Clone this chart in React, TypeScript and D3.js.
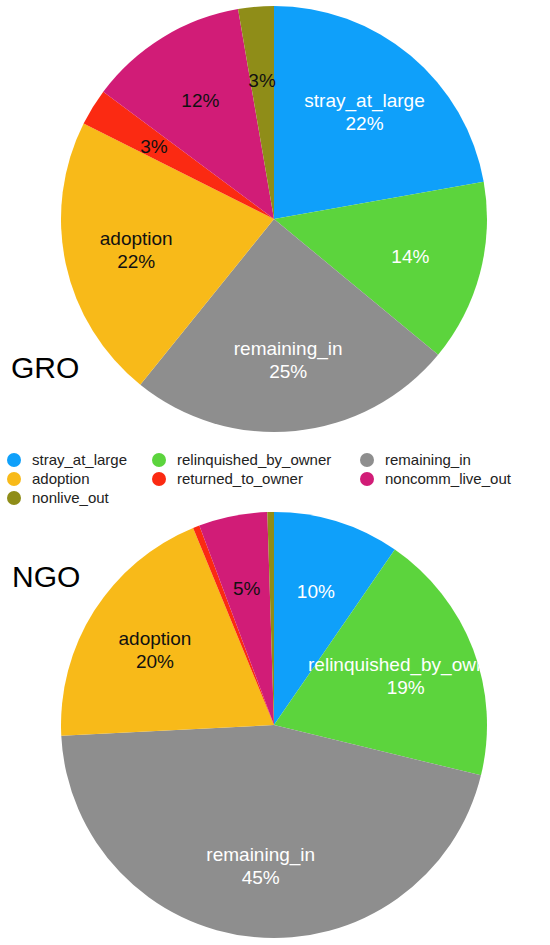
import React, { useRef, useEffect } from 'react'
import * as d3 from 'd3'

// categories in draw order (clockwise from 12 o'clock)
const categories = [
  'stray_at_large',
  'relinquished_by_owner',
  'remaining_in',
  'adoption',
  'returned_to_owner',
  'noncomm_live_out',
  'nonlive_out',
]

const colors = ['#0fa0fa', '#5cd43d', '#8e8e8e', '#f8ba19', '#fb2a12', '#d11c77', '#8f8d18']
const textColors = ['#fff', '#fff', '#fff', '#111', '#111', '#111', '#111']

// percent shares
const groValues = [22.2, 13.8, 24.8, 21.6, 2.8, 12.1, 2.7]
const ngoValues = [9.6, 19.2, 45.4, 19.6, 0.5, 5.2, 0.5]

// which slices show the category name / any label at all
const groShowName = [true, false, true, true, false, false, false]
const ngoShowName = [false, true, true, true, false, false, false]
const groShowLabel = [true, true, true, true, true, true, true]
const ngoShowLabel = [true, true, true, true, false, true, false]

// legend layout: three columns
const legendColumns = [0, 1, 2, 0, 1, 2, 0]
const legendRows = [0, 0, 0, 1, 1, 1, 2]

const WIDTH = 550
const HEIGHT = 945
const FONT = "Helvetica, Arial, 'Liberation Sans', sans-serif"

const App: React.FC = () => {
  const ref = useRef<SVGSVGElement>(null)

  useEffect(() => {
    if (!ref.current) return
    const svg = d3.select(ref.current)
    svg.selectAll('*').remove()

    const radius = 213
    const labelRadius = radius * 0.662

    const pies = [
      { id: 'gro', title: 'GRO', values: groValues, showName: groShowName, showLabel: groShowLabel, cx: 274, cy: 219, titleX: 11, titleY: 378 },
      { id: 'ngo', title: 'NGO', values: ngoValues, showName: ngoShowName, showLabel: ngoShowLabel, cx: 274, cy: 725, titleX: 12, titleY: 587 },
    ]

    const pie = d3.pie<number>().sort(null).value(d => d)
    const arc = d3.arc<d3.PieArcDatum<number>>().innerRadius(0).outerRadius(radius)

    pies.forEach(p => {
      const g = svg.append('g').attr('transform', `translate(${p.cx},${p.cy})`)
      const arcs = pie(p.values)

      svg.append('defs')
        .append('clipPath')
        .attr('id', `clip-${p.id}`)
        .append('circle')
        .attr('r', radius)

      g.selectAll('path')
        .data(arcs)
        .join('path')
        .attr('d', arc)
        .attr('fill', (d, i) => colors[i])

      const labels = g.append('g')
        .attr('clip-path', `url(#clip-${p.id})`)
        .style('font-family', FONT)
        .style('font-size', '19px')

      arcs.forEach((d, i) => {
        if (!p.showLabel[i]) return
        const mid = (d.startAngle + d.endAngle) / 2
        const x = labelRadius * Math.sin(mid)
        const y = -labelRadius * Math.cos(mid)
        const pct = `${Math.round(p.values[i])}%`
        const t = labels.append('text')
          .attr('text-anchor', 'middle')
          .attr('fill', textColors[i])
        if (p.showName[i]) {
          t.append('tspan').attr('x', x).attr('y', y - 4).text(categories[i])
          t.append('tspan').attr('x', x).attr('y', y + 19).text(pct)
        } else {
          t.append('tspan').attr('x', x).attr('y', y + 8).text(pct)
        }
      })

      svg.append('text')
        .attr('x', p.titleX)
        .attr('y', p.titleY)
        .style('font-family', FONT)
        .style('font-size', '30px')
        .attr('fill', '#000')
        .text(p.title)
    })

    // legend
    const colX = [14, 159, 367]
    const rowY = [460, 479, 498]
    const legend = svg.append('g').style('font-family', FONT).style('font-size', '15px')
    categories.forEach((c, i) => {
      const x = colX[legendColumns[i]]
      const y = rowY[legendRows[i]]
      legend.append('circle').attr('cx', x).attr('cy', y).attr('r', 7).attr('fill', colors[i])
      legend.append('text')
        .attr('x', x + 18)
        .attr('y', y + 5)
        .attr('fill', '#222')
        .text(c)
    })
  }, [])

  return (
    <div style={{ position: 'absolute', left: 0, top: 0 }}>
      <svg ref={ref} width={WIDTH} height={HEIGHT} style={{ display: 'block', background: '#fff' }} />
    </div>
  )
}

export default App
